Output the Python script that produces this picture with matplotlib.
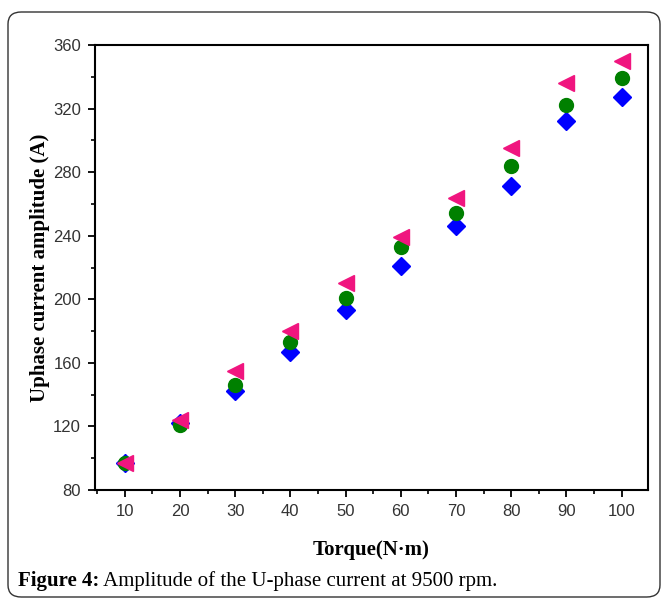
import matplotlib
matplotlib.use("Agg")
import matplotlib.pyplot as plt
from matplotlib.patches import FancyBboxPatch
from matplotlib.ticker import MultipleLocator

torque = [10, 20, 30, 40, 50, 60, 70, 80, 90, 100]
blue_diamond = [97, 122, 142, 167, 193, 221, 246, 271, 312, 327]
green_circle = [97, 121, 146, 173, 201, 233, 254, 284, 322, 339]
pink_triangle = [97, 124, 155, 180, 210, 239, 264, 295, 336, 350]

x_ticks = [10, 20, 30, 40, 50, 60, 70, 80, 90, 100]
y_ticks = [80, 120, 160, 200, 240, 280, 320, 360]

fig = plt.figure(figsize=(6.62, 6.01), dpi=100)
ax = fig.add_axes([95/662, 111/601, 553/662, 445/601])

ax.plot(torque, blue_diamond, linestyle='none', marker='D', ms=9, color='#0000FF', mec='#0000FF')
ax.plot(torque, green_circle, linestyle='none', marker='o', ms=10, color='#008000', mec='#008000')
ax.plot(torque, pink_triangle, linestyle='none', marker='<', ms=11, color='#F0157F', mec='#F0157F')

ax.set_xlim(4.6, 104.8)
ax.set_ylim(80, 360)
ax.set_xticks(x_ticks)
ax.set_yticks(y_ticks)
ax.xaxis.set_minor_locator(MultipleLocator(5))
ax.yaxis.set_minor_locator(MultipleLocator(20))
ax.tick_params(which='major', direction='out', length=5, width=1.3, labelsize=12, pad=5,
               labelcolor='#333333', top=False, right=False)
ax.tick_params(which='minor', direction='out', length=3, width=1.2, top=False, right=False)
for lab in ax.get_xticklabels() + ax.get_yticklabels():
    lab.set_family('Liberation Sans')
for s in ax.spines.values():
    s.set_linewidth(1.5)

ax.set_xlabel('Torque(N·m)', family='Liberation Serif', fontweight='bold', fontsize=15, labelpad=15)
ax.set_ylabel('Uphase current amplitude (A)', family='Liberation Serif', fontweight='bold',
              fontsize=15, labelpad=2)

border = FancyBboxPatch((8/662, 4/601), 652/662, 585/601, transform=fig.transFigure,
                        boxstyle='round,pad=0,rounding_size=0.02', fill=False,
                        edgecolor='#333333', linewidth=1.0)
fig.patches.append(border)

t1 = fig.text(18/662, 1 - 586/601, 'Figure 4:', family='Liberation Serif', fontweight='bold',
              fontsize=15, va='baseline')
ax.annotate(' Amplitude of the U-phase current at 9500 rpm.', xy=(1, 0), xycoords=t1,
            va='bottom', ha='left', family='Liberation Serif', fontsize=15, annotation_clip=False)

fig.savefig('out.png', dpi=100)
